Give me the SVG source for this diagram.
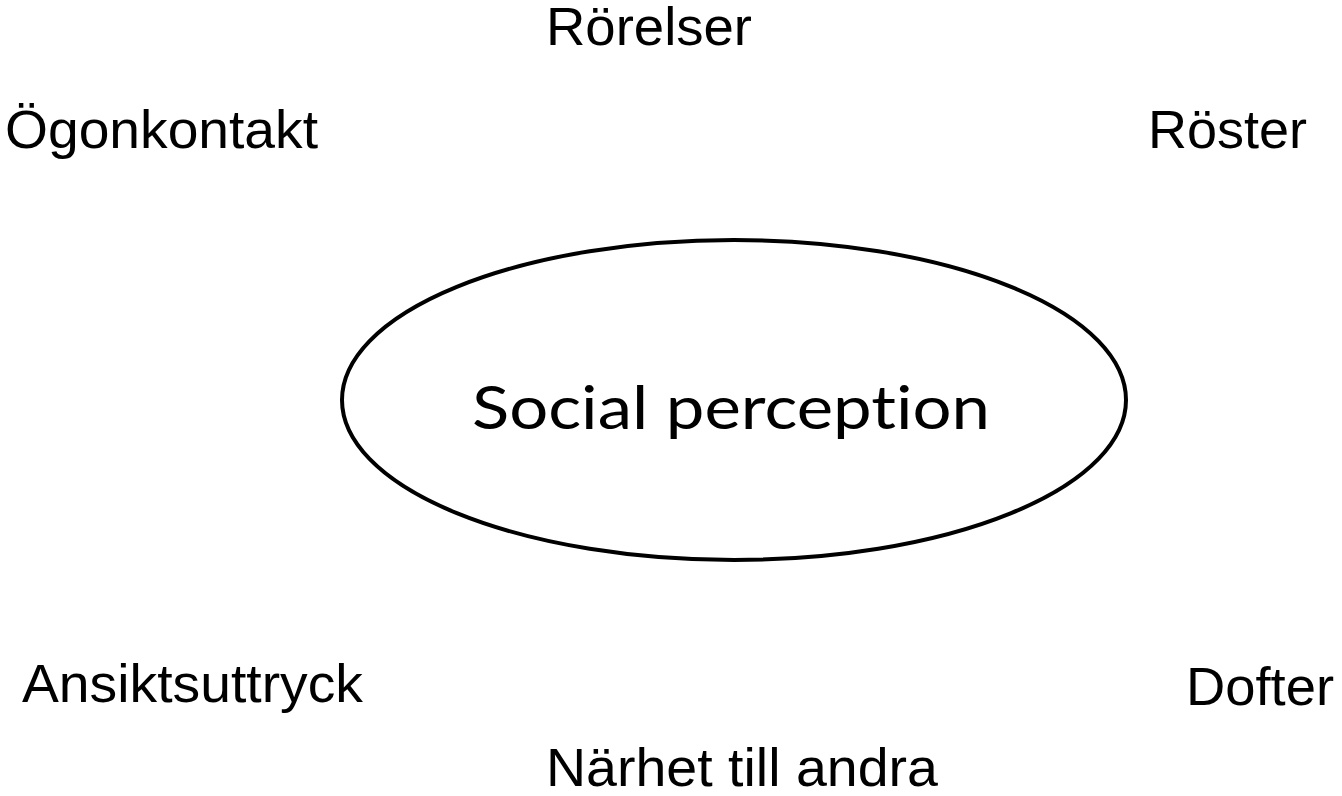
<svg xmlns="http://www.w3.org/2000/svg" width="1342" height="796" viewBox="0 0 1342 796">
<style>
.lbl{font-family:"Liberation Sans",Arial,sans-serif;font-size:54px;fill:#000}
.main{font-family:Lato,"Open Sans",sans-serif;font-size:60px;fill:#000;font-variant-ligatures:none;font-feature-settings:"liga" 0}
</style>
<rect width="1342" height="796" fill="#fff"/>
<g id="center">
<ellipse cx="734" cy="400" rx="392" ry="160" fill="none" stroke="#000" stroke-width="4"/>
<text class="main" x="731" y="429" text-anchor="middle" textLength="518" lengthAdjust="spacingAndGlyphs">Social perception</text>
</g>
<g id="connectors"></g>
<g id="rorelser"><text class="lbl" x="546" y="45" textLength="206" lengthAdjust="spacingAndGlyphs">Rörelser</text></g>
<g id="ogonkontakt"><text class="lbl" x="5" y="148" textLength="313" lengthAdjust="spacingAndGlyphs">Ögonkontakt</text></g>
<g id="roster"><text class="lbl" x="1148" y="148" textLength="159" lengthAdjust="spacingAndGlyphs">Röster</text></g>
<g id="ansiktsuttryck"><text class="lbl" x="22" y="702" textLength="341" lengthAdjust="spacingAndGlyphs">Ansiktsuttryck</text></g>
<g id="dofter"><text class="lbl" x="1186" y="705" textLength="148" lengthAdjust="spacingAndGlyphs">Dofter</text></g>
<g id="narhet"><text class="lbl" x="546" y="786" textLength="392" lengthAdjust="spacingAndGlyphs">Närhet till andra</text></g>
</svg>
